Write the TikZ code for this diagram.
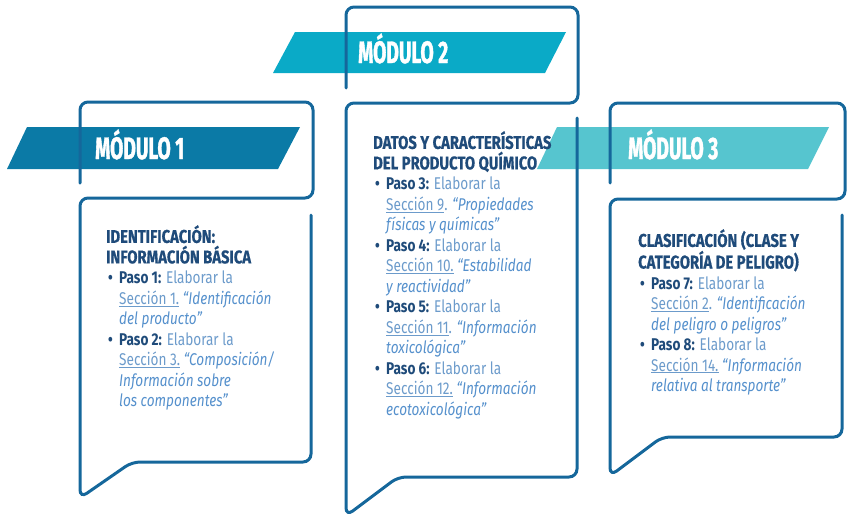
\documentclass[tikz,border=0pt]{standalone}
\usepackage{fontspec}
\setmainfont{Fira Sans}[FakeStretch=0.8]
\newfontfamily\bannerfont{Fira Sans}[FakeStretch=0.62, FakeBold=1.2]
\newfontfamily\headfont{Fira Sans}[FakeStretch=0.8, FakeBold=0.6]
\usetikzlibrary{positioning}
\definecolor{outline}{HTML}{15679B}
\definecolor{modone}{HTML}{0B7AA6}
\definecolor{modtwo}{HTML}{0AAAC7}
\definecolor{modthree}{HTML}{56C5CF}
\definecolor{navy}{HTML}{1F4B7A}
\definecolor{soft}{HTML}{6C9BCB}
\definecolor{quote}{HTML}{5590CC}
\newcommand{\paso}[1]{\hspace*{2pt}\makebox[11pt][l]{\textcolor{navy}{\textbf{•}}}\textcolor{navy}{\textbf{Paso #1:}} Elaborar la}
\newcommand{\ind}{\hspace*{13pt}}
\newcommand{\head}[1]{{\headfont\bfseries\fontsize{18.5}{20.5}\selectfont\textcolor{navy}{#1}}}
\newcommand{\qt}[1]{\textcolor{quote}{\textit{#1}}}
\tikzset{
bubble/.style={draw=outline, line width=3pt, rounded corners=8pt, line cap=round}, % outline of each speech bubble
banner/.style={text=white, font=\bannerfont\bfseries\fontsize{31}{31}\selectfont, anchor=base west, inner sep=0pt}, % module title
textblock/.style={anchor=north west, align=left, inner sep=0pt, text=soft, font=\fontsize{17}{20.5}\selectfont}, % body text
}
\begin{document}
\begin{tikzpicture}[x=1pt, y=-1pt]
\useasboundingbox (0,0) rectangle (853,528);

% banners
\fill[modone] (27,127) -- (300,127) -- (278,169) -- (7,169) -- cycle;
\fill[modtwo] (295,32) -- (566,32) -- (545,73) -- (273,73) -- cycle;
\fill[modthree] (557,127) -- (829,127) -- (808,169) -- (537,169) -- cycle;

% bubbles
\draw[bubble] (80,183) -- (80,102) -- (313,102) -- (313,198) -- (80,198) -- (80,498) -- (132,462) -- (311,462) -- (311,215);
\draw[bubble] (346,88) -- (346,7) -- (578,7) -- (578,103) -- (346,103) -- (346,516) -- (398,477) -- (577,477) -- (577,118);
\draw[bubble] (610,183) -- (610,103) -- (845,103) -- (845,199) -- (610,199) -- (610,476) -- (662,437) -- (842,437) -- (842,215);

% titles
\node[banner] (mod1) at (95,159) {MÓDULO 1};
\node[banner] (mod2) at (358,63) {MÓDULO 2};
\node[banner] (mod3) at (628,159) {MÓDULO 3};

% texts
\node[textblock] (t1) at (106,225) {\head{IDENTIFICACIÓN:}\\
\head{INFORMACIÓN BÁSICA}\\
\paso{1}\\
\ind\underline{Sección 1.} \qt{“Identificación}\\
\ind\qt{del producto”}\\
\paso{2}\\
\ind\underline{Sección 3.} \qt{“Composición/}\\
\ind\qt{Información sobre}\\
\ind\qt{los componentes”}};

\node[textblock] (t2) at (373,131) {\head{DATOS Y CARACTERÍSTICAS}\\
\head{DEL PRODUCTO QUÍMICO}\\
\paso{3}\\
\ind\underline{Sección 9}. \qt{“Propiedades}\\
\ind\qt{físicas y químicas”}\\
\paso{4}\\
\ind\underline{Sección 10.} \qt{“Estabilidad}\\
\ind\qt{y reactividad”}\\
\paso{5}\\
\ind\underline{Sección 11}. \qt{“Información}\\
\ind\qt{toxicológica”}\\
\paso{6}\\
\ind\underline{Sección 12.} \qt{“Información}\\
\ind\qt{ecotoxicológica”}};

\node[textblock] (t3) at (638,229) {\head{CLASIFICACIÓN (CLASE Y}\\
\head{CATEGORÍA DE PELIGRO)}\\
\paso{7}\\
\ind\underline{Sección 2}. \qt{“Identificación}\\
\ind\qt{del peligro o peligros”}\\
\paso{8}\\
\ind\underline{Sección 14.} \qt{“Información}\\
\ind\qt{relativa al transporte”}};
\end{tikzpicture}
\end{document}
